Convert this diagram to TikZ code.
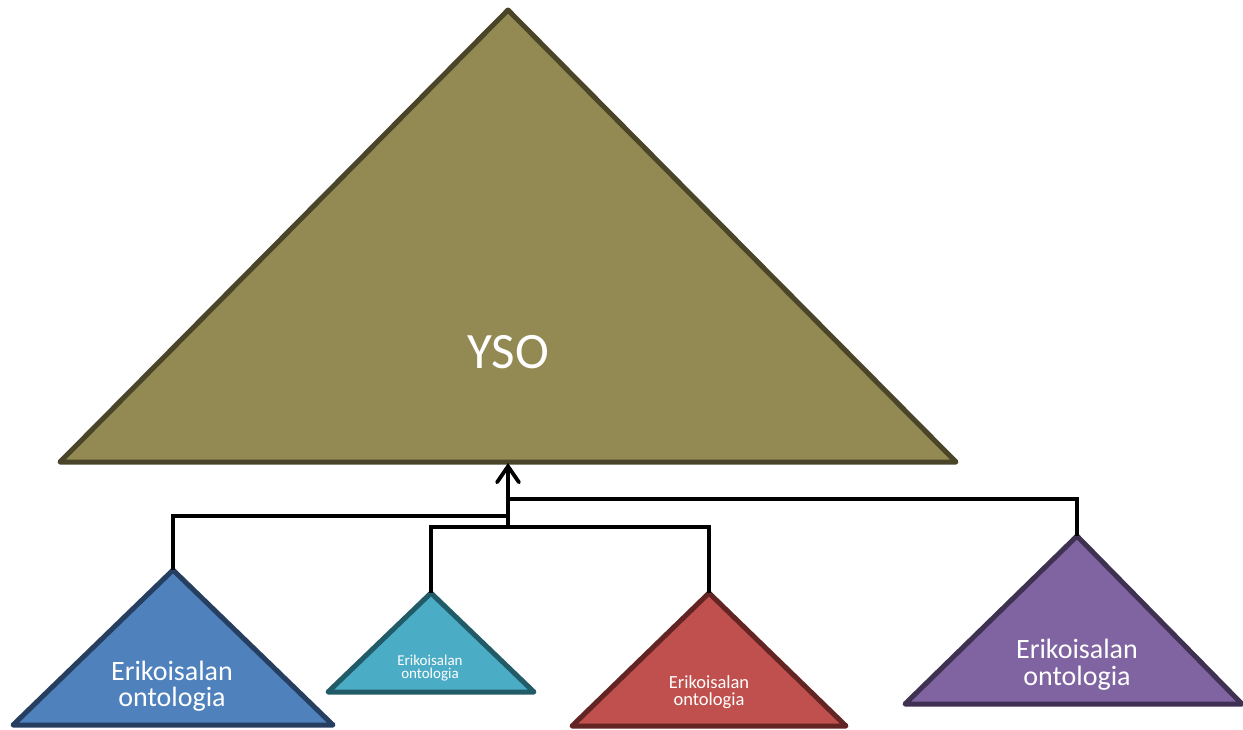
\documentclass[tikz,border=0pt]{standalone}
\usepackage{fontspec}
\setmainfont{Carlito}
\usetikzlibrary{arrows.meta}
\definecolor{ysofill}{HTML}{938953}
\definecolor{ysoline}{HTML}{4A4429}
\definecolor{bluefill}{HTML}{4F81BD}
\definecolor{blueline}{HTML}{263F61}
\definecolor{tealfill}{HTML}{4BACC6}
\definecolor{tealline}{HTML}{215B68}
\definecolor{redfill}{HTML}{C0504D}
\definecolor{redline}{HTML}{632523}
\definecolor{purpfill}{HTML}{8064A2}
\definecolor{purpline}{HTML}{3F3151}
\tikzset{
  tri/.style={line width=5pt, line join=round},
  conn/.style={line width=3.8pt, draw=black},
  lbl/.style={text=white, align=center, inner sep=0pt},
}
\begin{document}
\begin{tikzpicture}[x=1pt,y=-1pt]
\useasboundingbox (0,0) rectangle (1243,729);
% YSO
\coordinate (ysoapex) at (508,10);
\coordinate (ysobase) at (508,463);
\draw[tri, fill=ysofill, draw=ysoline] (ysoapex) -- (956,462) -- (60,462) -- cycle;
\node[lbl, font=\fontsize{51}{51}\selectfont] (yso) at (508,352) {YSO};
% blue
\coordinate (blueapex) at (173,570);
\draw[tri, fill=bluefill, draw=blueline] (blueapex) -- (333,725) -- (13,725) -- cycle;
\node[lbl, font=\fontsize{28}{26}\selectfont] (bluelbl) at (172,686) {Erikoisalan\\ontologia};
% teal
\coordinate (tealapex) at (431,593);
\draw[tri, fill=tealfill, draw=tealline] (tealapex) -- (534,692) -- (328,692) -- cycle;
\node[lbl, font=\fontsize{15}{13}\selectfont] (teallbl) at (430,668) {Erikoisalan\\ontologia};
% red
\coordinate (redapex) at (709,593);
\draw[tri, fill=redfill, draw=redline] (redapex) -- (846,726) -- (572,726) -- cycle;
\node[lbl, font=\fontsize{18.5}{17}\selectfont] (redlbl) at (709,692) {Erikoisalan\\ontologia};
% purple
\coordinate (purpapex) at (1077,536);
\draw[tri, fill=purpfill, draw=purpline] (purpapex) -- (1242,704) -- (905,704) -- cycle;
\node[lbl, font=\fontsize{28}{27}\selectfont] (purplbl) at (1077,665) {Erikoisalan\\ontologia};
% connectors
\coordinate (hub) at (508,527);
\coordinate (bluejoin) at (508,516);
\coordinate (purpjoin) at (508,499);
\draw[conn] (blueapex) |- (bluejoin);
\draw[conn] (tealapex) |- (hub) -| (redapex);
\draw[conn] (purpapex) |- (purpjoin);
\draw[conn, -{Straight Barb[length=16pt,width=22pt,line cap=round]}, line cap=round] (hub) -- (ysobase);
\end{tikzpicture}
\end{document}
